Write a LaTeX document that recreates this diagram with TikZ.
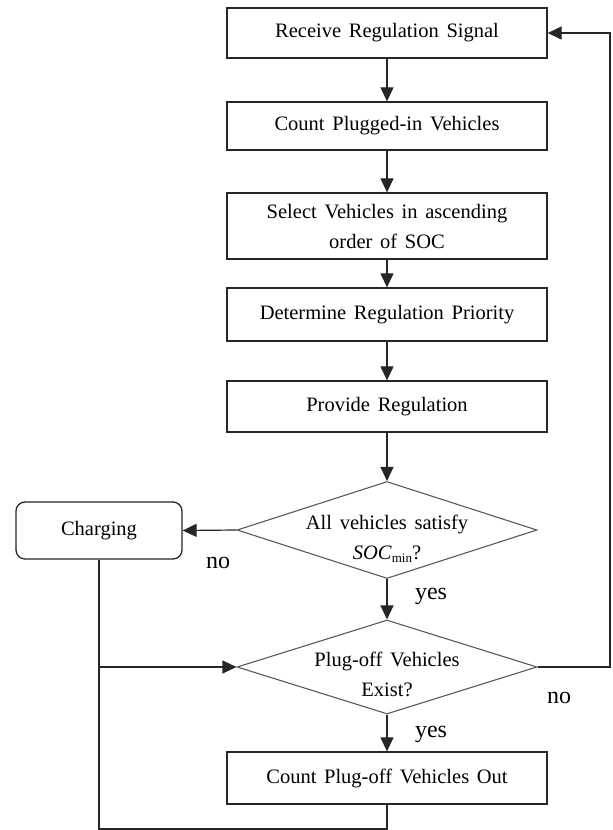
\documentclass[tikz,border=0pt]{standalone}
\usepackage{fontspec}
\setmainfont{Liberation Serif}[WordSpace=1.5]
\usetikzlibrary{arrows.meta,shapes.geometric}
\begin{document}
\begin{tikzpicture}[x=1pt,y=-1pt,
  every node/.style={font=\fontsize{20.5}{30}\selectfont},
  procbox/.style={draw=black!85,line width=1.3pt,rectangle,minimum width=320pt,inner sep=0pt,align=center},
  decbox/.style={draw=black!65,line width=1.1pt,diamond,minimum width=300pt,inner sep=0pt},
  txt/.style={inner sep=0pt,align=center},
  lbl/.style={inner sep=0pt,font=\fontsize{24}{26}\selectfont},
  conn/.style={draw=black!85,line width=1.2pt},
  arr/.style={conn,-{Triangle[length=14pt,width=13pt]}}]
\useasboundingbox (0,0) rectangle (613,830);
\node[procbox,minimum height=50pt] (b1) at (387,33) {Receive Regulation Signal};
\node[procbox,minimum height=48pt] (b2) at (387,126) {Count Plugged-in Vehicles};
\node[procbox,minimum height=66pt] (b3) at (387,226) {Select Vehicles in ascending\\order of SOC};
\node[procbox,minimum height=53pt] (b4) at (387,314.5) {Determine Regulation Priority};
\node[procbox,minimum height=51pt] (b5) at (387,406.5) {Provide Regulation};
\node[decbox,minimum height=97pt] (d1) at (387,530) {};
\node[txt] (d1t) at (387,539) {All vehicles satisfy\\\textit{SOC}\raisebox{-0.35ex}{\fontsize{13}{13}\selectfont min}?};
\node[decbox,minimum height=94pt] (d2) at (387,667) {};
\node[txt] (d2t) at (387,674) {Plug-off Vehicles\\Exist?};
\node[procbox,minimum height=52pt] (b6) at (387,778) {Count Plug-off Vehicles Out};
\node[draw=black!85,line width=1.3pt,rounded corners=9pt,minimum width=166pt,minimum height=57pt,inner sep=0pt] (ch) at (99,530.5) {Charging};
\node[lbl] (no1) at (218,563) {no};
\node[lbl] (yes1) at (431,596) {yes};
\node[lbl] (no2) at (559,698) {no};
\node[lbl] (yes2) at (431,734) {yes};
\coordinate (bl) at (99,829);
\coordinate (rr) at (610,667);
\draw[arr] (b1) -- (b2);
\draw[arr] (b2) -- (b3);
\draw[arr] (b3) -- (b4);
\draw[arr] (b4) -- (b5);
\draw[arr] (b5) -- (d1.north);
\draw[arr] (d1.west) -- (ch.east);
\draw[arr] (d1.south) -- (d2.north);
\draw[arr] (d2.south) -- (b6.north);
\draw[conn] (ch.south) -- (bl) -| (b6.south);
\draw[arr] (ch.south |- d2.west) -- (d2.west);
\draw[arr] (d2.east) -- (rr) |- (b1.east);
\end{tikzpicture}
\end{document}
